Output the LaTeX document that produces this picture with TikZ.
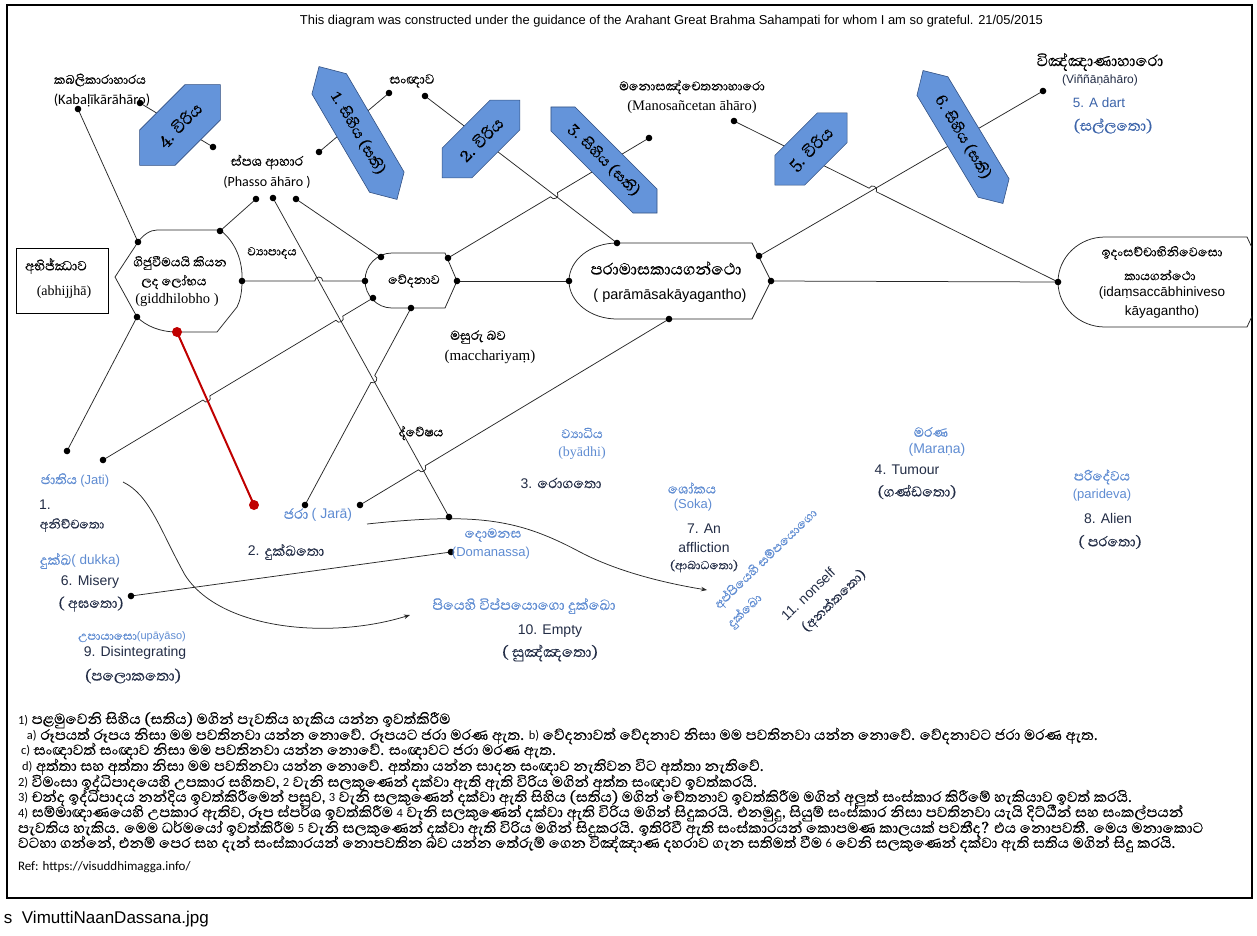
\documentclass[tikz,border=0pt]{standalone}
\usepackage{fontspec}
\usepackage{graphicx}
\usetikzlibrary{calc,intersections,arrows.meta}
\setmainfont{Liberation Serif}
\newfontfamily\sifont[Script=Sinhala,FakeBold=0.4]{Abhaya Libre}
\newfontfamily\arl{Liberation Sans}
\newfontfamily\tms{Liberation Serif}
\newfontfamily\clb{Carlito}
\newcommand\fsz[1]{\fontsize{#1}{#1}\selectfont}
\newcommand\lat[1]{{\clb\fsz{12.5}#1}}

\definecolor{lblue}{RGB}{95,140,210}
\definecolor{navy}{RGB}{35,45,70}
\definecolor{dblue}{RGB}{60,100,170}
\definecolor{hexfill}{RGB}{100,148,218}
\definecolor{hexline}{RGB}{50,80,130}
\definecolor{wirec}{RGB}{40,40,40}
\definecolor{redl}{RGB}{192,0,0}

\tikzset{
  lab/.style={inner sep=0pt, outer sep=0pt},
  wire/.style={draw=wirec, line width=0.75pt},
  shapeline/.style={draw=black!85, line width=0.75pt},
  hexbox/.style={fill=hexfill, draw=hexline, line width=0.6pt},
  hextxt/.style={inner sep=0pt, text=black},
  redwire/.style={draw=redl, line width=2pt},
  hop/.style={to path={.. controls ($(\tikztostart)!5.3pt!90:(\tikztotarget)$) and ($(\tikztotarget)!5.3pt!-90:(\tikztostart)$) .. (\tikztotarget)}},
  tip/.style={-{Stealth[length=6pt,width=4.5pt]}},
}

% a line from #1 to #2 crossing path #3; #4a and #4b flank the crossing
\newcommand\hoppath[4]{%
  \path[name path=#4p] (#1) -- (#2);
  \path[name intersections={of=#4p and #3, by=#4}];
  \coordinate (#4a) at ($(#4)!4pt!(#1)$);
  \coordinate (#4b) at ($(#4)!4pt!(#2)$);
}

% blue hexagon label: name, centre, angle, length, half width, text
\newcommand\hexlab[6]{%
  \begin{scope}[shift={(#2)},rotate=#3]
    \draw[hexbox] (-#4/2,0) -- (-#4/2+#5,#5) -- (#4/2-#5,#5) -- (#4/2,0) -- (#4/2-#5,-#5) -- (-#4/2+#5,-#5) -- cycle;
    \node[hextxt,rotate=#3] (#1) at (0,0) {#6};
  \end{scope}}

\newcommand\noteline[4]{\node[lab,anchor=west] (#1) at (#2,#3) {\sifont\fsz{18.8}#4};}

\begin{document}
\begin{tikzpicture}[x=1pt,y=-1pt]
\useasboundingbox (0,0) rectangle (1257,935);
\fill[white] (0,0) rectangle (1257,935);

% frame
\draw[line width=1.8pt] (7,5) rectangle (1252,898);

\node[lab] (title) at (671.5,21) {\resizebox{743pt}{!}{\arl\fsz{12}This diagram was constructed under the guidance of the Arahant Great Brahma Sahampati for whom I am so grateful. 21/05/2015}};

% connection points
\coordinate (kabA) at (78,109);
\coordinate (kabB) at (140,103);
\coordinate (v4e) at (213,147);
\coordinate (phE) at (319,152);
\coordinate (phA) at (256,199);
\coordinate (phB) at (273,198);
\coordinate (phC) at (296,199);
\coordinate (sanA) at (389,93);
\coordinate (sanB) at (425,96);
\coordinate (s3) at (649,138);
\coordinate (manA) at (734,121);
\coordinate (vinA) at (1043,91);
\coordinate (gidTL) at (138,242);
\coordinate (gidTR) at (220,231);
\coordinate (gidR) at (242,281);
\coordinate (gidBL) at (137,317);
\coordinate (gidB) at (177,332);
\coordinate (vedTL) at (381,257);
\coordinate (vedTR) at (448,258);
\coordinate (vedL) at (365,281);
\coordinate (vedR) at (457,281);
\coordinate (vedBL) at (373,298);
\coordinate (vedB) at (411,308);
\coordinate (parTL) at (617,243);
\coordinate (parTR) at (759,256);
\coordinate (parL) at (569,281);
\coordinate (parR) at (771,281);
\coordinate (parB) at (669,319);
\coordinate (idL) at (1058,282);
\coordinate (jtA) at (67,451);
\coordinate (jtB) at (103,460);
\coordinate (jrA) at (305,505);
\coordinate (jrB) at (360,505);
\coordinate (redE) at (254,505);
\coordinate (dom) at (449,517);
\coordinate (domB) at (451,552);
\coordinate (mis) at (131,596);
\coordinate (jtS) at (123,482);
\coordinate (jtE) at (410,615);
\coordinate (jrS) at (367,524);
\coordinate (jrE) at (707,590);

% connectors
\draw[wire] (kabA) -- (gidTL);
\draw[wire] (kabB) -- (v4e);
\draw[wire] (phA) -- (gidTR);
\draw[wire, name path=diag] (phB) -- (dom);
\draw[wire] (phC) -- (vedTL);
\draw[wire] (phE) -- (sanA);
\draw[wire, name path=l7] (sanB) -- (parTL);
\hoppath{s3}{vedTR}{l7}{ha}
\draw[wire] (s3) -- (haa) to[hop] (hab) -- (vedTR);
\draw[wire, name path=l10] (vinA) -- (parTR);
\hoppath{manA}{idL}{l10}{hb}
\draw[wire] (manA) -- (hba) to[hop] (hbb) -- (idL);
\hoppath{gidR}{vedL}{diag}{hc}
\draw[wire] (gidR) -- (hca) to[hop] (hcb) -- (vedL);
\draw[wire] (vedR) -- (parL);
\draw[wire] (parR) -- (idL);
\draw[wire] (gidBL) -- (jtA);
\path[name path=redp] (gidB) -- (redE);
\hoppath{vedBL}{jtB}{diag}{hd}
\hoppath{vedBL}{jtB}{redp}{he}
\draw[wire] (vedBL) -- (hda) to[hop] (hdb) -- (hea) to[hop] (heb) -- (jtB);
\hoppath{vedB}{jrA}{diag}{hf}
\draw[wire] (vedB) -- (hfa) to[hop] (hfb) -- (jrA);
\hoppath{parB}{jrB}{diag}{hg}
\draw[wire] (parB) -- (hga) to[hop] (hgb) -- (jrB);
\draw[redwire] (gidB) -- (redE);
\draw[wire, tip] (jtS) .. controls (150,495) and (160,530) .. (185,575) .. controls (220,630) and (330,640) .. (jtE);
\draw[wire, tip] (jrS) .. controls (480,512) and (520,520) .. (580,552) .. controls (620,573) and (670,584) .. (jrE);
\draw[wire] (mis) -- (domB);

% outlined shapes
\draw[line width=0.75pt] (16,248) rectangle (108,313);
\draw[shapeline] (157,230) -- (220,230) .. controls (236,242) and (243,262) .. (242,281) .. controls (242,293) and (240,301) .. (237,307) -- (217,332) -- (177,332) .. controls (160,332) and (146,326) .. (137,317) -- (115,277) -- (138,242) .. controls (143,235) and (150,230) .. (157,230) -- cycle;
\draw[shapeline] (392,253) -- (445,253) -- (457,281) -- (445,308) -- (392,308) arc[start angle=90, end angle=270, x radius=27, y radius=27.5];
\draw[shapeline] (617,243) -- (752,243) -- (771,281) -- (752,319) -- (617,319) arc[start angle=90, end angle=270, x radius=48, y radius=38];
\begin{scope}
  \clip (7,5) rectangle (1252,898);
  \draw[shapeline] (1105,237) -- (1247,237) -- (1268,282) -- (1247,327) -- (1105,327) arc[start angle=90, end angle=270, x radius=47, y radius=45];
\end{scope}

% blue hexagons
\hexlab{h4}{180,125}{45}{114}{25}{\sifont\fsz{21}4. විරිය}
\hexlab{h1}{358,133}{-59.6}{154}{20}{\sifont\fsz{19}1. සිහිය (සති)}
\hexlab{h2}{481,139}{45}{110}{21}{\sifont\fsz{21}2. විරිය}
\hexlab{h3}{604,160}{-45}{150}{17}{\sifont\fsz{19}3. සිහිය (සති)}
\hexlab{h5}{811,149}{45}{102}{21}{\sifont\fsz{21}5. විරිය}
\hexlab{h6}{963,137}{-59}{155}{18}{\sifont\fsz{19}6. සිහිය (සති)}

% dots
\foreach \p in {kabA,kabB,v4e,phE,phA,phB,phC,sanA,sanB,s3,manA,vinA,gidTL,gidTR,gidR,gidBL,vedTL,vedTR,vedL,vedR,vedBL,vedB,parTL,parTR,parL,parR,parB,idL,jtA,jtB,jrA,jrB,dom,domB,mis}
  \fill[black] (\p) circle[radius=3.3];
\fill[redl] (gidB) circle[radius=5];
\fill[redl] (redE) circle[radius=5];

% upper labels
\node[lab] (kab1) at (100,80) {\sifont\fsz{16}කබලිකාරාහාරය};
\node[lab] (kab2) at (102,100) {\clb\fsz{14.5}(Kabaḷīkārāhāro)};
\node[lab] (phs1) at (267,162) {\sifont\fsz{17}ස්පශ ආහාර};
\node[lab] (phs2) at (267,182) {\clb\fsz{14}(Phasso āhāro )};
\node[lab] (san) at (412,81) {\sifont\fsz{17}සංඥාව};
\node[lab] (man1) at (692,87) {\sifont\fsz{16}මනොසඤ්චෙතනාහාරො};
\node[lab] (man2) at (692,107) {\tms\fsz{14.5}(Manosañcetan āhāro)};
\node[lab] (vin1) at (1100,62) {\sifont\fsz{20}විඤ්ඤාණාහාරො};
\node[lab,text=navy] (vin2) at (1100,80) {\arl\fsz{12}(Viññāṇāhāro)};
\node[lab,text=dblue] (dart1) at (1099,103) {\arl\fsz{13.5}5. A dart};
\node[lab,text=dblue] (dart2) at (1113,126) {\sifont\fsz{19}(සල්ලතො)};

% main nodes
\node[lab] (abh1) at (56,266) {\sifont\fsz{17}අභිජ්ඣාව};
\node[lab] (abh2) at (64,292) {\tms\fsz{14}(abhijjhā)};
\node[lab] (gid1) at (180,263) {\sifont\fsz{16}ගිජුවීමයයි කියන};
\node[lab] (gid2) at (174,282) {\sifont\fsz{16}ලද ලෝභය};
\node[lab] (gid3) at (177,300) {\tms\fsz{14.5}(giddhilobho )};
\node[lab] (vya) at (272,253) {\sifont\fsz{15}ව්‍යාපාදය};
\node[lab] (ved) at (414,281) {\sifont\fsz{16}වේදනාව};
\node[lab] (par1) at (666,268) {\sifont\fsz{20.5}පරාමාසකායගන්ථො};
\node[lab] (par2) at (670,296) {\arl\fsz{14.5}( parāmāsakāyagantho)};
\node[lab] (id1) at (1162,253) {\sifont\fsz{16}ඉදංසච්චාභිනිවෙසො};
\node[lab] (id2) at (1160,275) {\sifont\fsz{16}කායගන්ථො};
\node[lab] (id3) at (1162,293) {\arl\fsz{13.5}(idaṃsaccābhiniveso};
\node[lab] (id4) at (1162,312) {\arl\fsz{13.5}kāyagantho)};
\node[lab] (mac1) at (478,337) {\sifont\fsz{16.5}මසුරු බව};
\node[lab] (mac2) at (490,357) {\tms\fsz{15}(macchariyaṃ)};
\node[lab] (dve) at (421,433) {\sifont\fsz{16}ද්වේෂය};

% lower labels
\node[lab,text=lblue] (bya1) at (582,433) {\sifont\fsz{16}ව්‍යාධිය};
\node[lab,text=lblue] (bya2) at (582,453) {\tms\fsz{14}(byādhi)};
\node[lab,text=navy] (rog) at (561,483) {\arl\fsz{14}3. \sifont\fsz{18}රොගතො};
\node[lab,text=lblue] (sok1) at (692,488) {\sifont\fsz{17}ශෝකය};
\node[lab,text=lblue] (sok2) at (693,505) {\arl\fsz{13}(Soka)};
\node[lab,text=navy] (aff1) at (704,529) {\arl\fsz{14}7. An};
\node[lab,text=navy] (aff2) at (704,547) {\arl\fsz{14}affliction};
\node[lab,text=navy] (aff3) at (704,566) {\sifont\fsz{15}(ආබාධතො)};
\node[lab,text=lblue,rotate=44] (app1) at (766,559) {\sifont\fsz{16}අප්පියෙහි සම්පයොගො};
\node[lab,text=lblue,rotate=44] (app2) at (745,611) {\sifont\fsz{16}දුක්ඛො};
\node[lab,text=navy,rotate=44] (non1) at (808,594) {\arl\fsz{14}11. nonself};
\node[lab,text=navy,rotate=44] (non2) at (834,601) {\sifont\fsz{17}(අනත්තතො)};
\node[lab,text=lblue] (mar1) at (931,432) {\sifont\fsz{17}මරණ};
\node[lab,text=lblue] (mar2) at (937,450) {\arl\fsz{14}(Maraṇa)};
\node[lab,text=navy] (tum1) at (907,470) {\arl\fsz{14}4. Tumour};
\node[lab,text=navy] (tum2) at (917,492) {\sifont\fsz{18}(ගණ්ඩතො)};
\node[lab,text=lblue] (pari1) at (1102,477) {\sifont\fsz{17}පරිදේවය};
\node[lab,text=lblue] (pari2) at (1102,495) {\arl\fsz{13}(parideva)};
\node[lab,text=navy] (ali1) at (1108,518) {\arl\fsz{14}8. Alien};
\node[lab,text=navy] (ali2) at (1110,542) {\sifont\fsz{18}( පරතො)};
\node[lab,text=lblue] (jati) at (75,480) {\sifont\fsz{17}ජාතිය~\arl\fsz{13}(Jati)};
\node[lab,text=navy] (one1) at (45,505) {\arl\fsz{14}1.};
\node[lab,text=navy] (one2) at (72,525) {\sifont\fsz{16}අනිච්චතො};
\node[lab,text=lblue] (jara) at (318,515) {\sifont\fsz{18}ජරා~\arl\fsz{14}( Jarā)};
\node[lab,text=navy] (duk2) at (286,552) {\arl\fsz{14}2. \sifont\fsz{18}දුක්ඛතො};
\node[lab,text=lblue] (duk) at (80,561) {\sifont\fsz{18}දුක්ඛ\arl\fsz{13.5}( dukka)};
\node[lab,text=navy] (mis1) at (90,582) {\arl\fsz{14}6. Misery};
\node[lab,text=navy] (mis2) at (91,604) {\sifont\fsz{18}( අඝතො)};
\node[lab,text=lblue] (upa) at (132,637) {\sifont\fsz{15}උපායාසො\arl\fsz{11}(upāyāso)};
\node[lab,text=navy] (dis1) at (135,653) {\arl\fsz{14}9. Disintegrating};
\node[lab,text=navy] (dis2) at (133,676) {\sifont\fsz{19}(පලොකතො)};
\node[lab,text=lblue] (dom1) at (493,535) {\sifont\fsz{17}දොමනස};
\node[lab,text=lblue] (dom2) at (491,553) {\arl\fsz{13}(Domanassa)};
\node[lab,text=lblue] (piy) at (524,606) {\sifont\fsz{18}පියෙහි විප්පයොගො දුක්ඛො};
\node[lab,text=navy] (emp1) at (550,631) {\arl\fsz{14}10. Empty};
\node[lab,text=navy] (emp2) at (550,653) {\sifont\fsz{19}( සුඤ්ඤතො)};

% notes
\noteline{n1}{18}{720}{\lat{1)} පළමුවෙනි සිහිය (සතිය) මගින් පැවතිය හැකිය යන්න ඉවත්කිරීම}
\noteline{n2}{27}{736}{\lat{a)} රූපයත් රූපය නිසා මම පවතිනවා යන්න නොවේ. රූපයට ජරා මරණ ඇත. \lat{b)} වේදනාවත් වේදනාව නිසා මම පවතිනවා යන්න නොවේ. වේදනාවට ජරා මරණ ඇත.}
\noteline{n3}{21}{751}{\lat{c)} සංඥාවත් සංඥාව නිසා මම පවතිනවා යන්න නොවේ. සංඥාවට ජරා මරණ ඇත.}
\noteline{n4}{22}{767}{\lat{d)} අත්තා සහ අත්තා නිසා මම පවතිනවා යන්න නොවේ. අත්තා යන්න සාදන සංඥාව නැතිවන විට අත්තා නැතිවේ.}
\noteline{n5}{18}{783}{\lat{2)} විමංසා ඉද්ධිපාදයෙහි උපකාර සහිතව, \lat{2} වැනි සලකුණෙන් දක්වා ඇති ඇති විරිය මගින් අත්ත සංඥාව ඉවත්කරයි.}
\noteline{n6}{18}{798}{\lat{3)} චන්ද ඉද්ධිපාදය නන්දිය ඉවත්කිරීමෙන් පසුව, \lat{3} වැනි සලකුණෙන් දක්වා ඇති සිහිය (සතිය) මගින් චේතනාව ඉවත්කිරීම මගින් අලුත් සංස්කාර කිරීමේ හැකියාව ඉවත් කරයි.}
\noteline{n7}{18}{813}{\lat{4)} සම්මාඥාණයෙහි උපකාර ඇතිව, රූප ස්පර්ශ ඉවත්කිරීම \lat{4} වැනි සලකුණෙන් දක්වා ඇති විරිය මගින් සිදුකරයි. එනමුදු, සියුම් සංස්කාර නිසා පවතිනවා යැයි දිට්ඨීන් සහ සංකල්පයන්}
\noteline{n8}{18}{829}{පැවතිය හැකිය. මෙම ධර්මයෝ ඉවත්කිරීම \lat{5} වැනි සලකුණෙන් දක්වා ඇති විරිය මගින් සිදුකරයි. ඉතිරිවී ඇති සංස්කාරයන් කොපමණ කාලයක් පවතීද? එය නොපවතී. මෙය මනාකොට}
\noteline{n9}{18}{844}{වටහා ගන්නේ, එනම් පෙර සහ දැන් සංස්කාරයන් නොපවතින බව යන්න තේරුම් ගෙන විඤ්ඤාණ දහරාව ගැන සතිමත් වීම \lat{6} වෙනි සලකුණෙන් දක්වා ඇති සතිය මගින් සිදු කරයි.}
\node[lab,anchor=west] (ref) at (18,867) {\clb\fsz{13}Ref: https://visuddhimagga.info/};

\node[lab,anchor=west] (fname) at (4,919) {\arl\fsz{17}s\ \ VimuttiNaanDassana.jpg};
\end{tikzpicture}
\end{document}
